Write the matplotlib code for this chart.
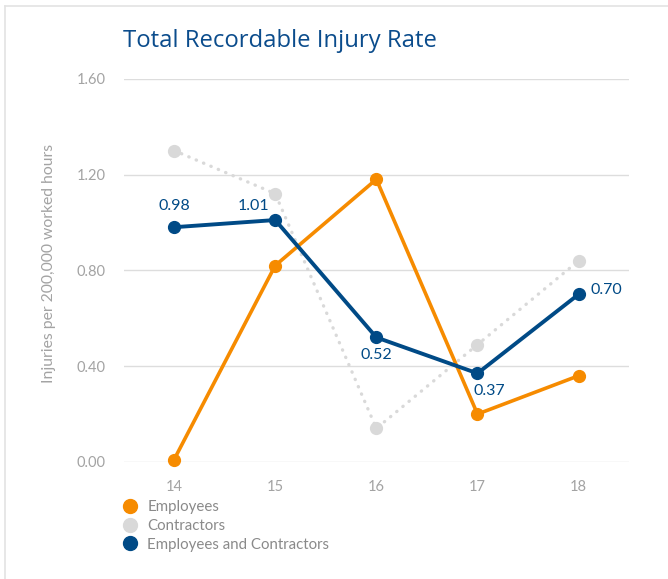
import matplotlib
matplotlib.use("Agg")
import matplotlib.pyplot as plt
from matplotlib.lines import Line2D

years = [14, 15, 16, 17, 18]
year_labels = ["14", "15", "16", "17", "18"]
employees = [0.01, 0.82, 1.18, 0.20, 0.36]
contractors = [1.30, 1.12, 0.14, 0.49, 0.84]
combined = [0.98, 1.01, 0.52, 0.37, 0.70]
combined_labels = ["0.98", "1.01", "0.52", "0.37", "0.70"]
y_ticks = [0.0, 0.4, 0.8, 1.2, 1.6]
y_tick_labels = ["0.00", "0.40", "0.80", "1.20", "1.60"]
series_names = ["Employees", "Contractors", "Employees and Contractors"]

ORANGE = "#F68B00"
GRAY = "#D9D9D9"
BLUE = "#004A86"
TEXT_GRAY = "#A3A3A3"
TITLE_BLUE = "#0B4C8C"

plt.rcParams['font.family'] = ['Lato', 'DejaVu Sans']

fig = plt.figure(figsize=(6.68, 5.79), dpi=100)
ax = fig.add_axes([0.1849, 0.2021, 0.757, 0.662])

# frame lines of the panel
fig.add_artist(Line2D([5/668, 5/668], [0, 1 - 6/579], transform=fig.transFigure, color="#E3E3E3", lw=1.2))
fig.add_artist(Line2D([5/668, 1], [1 - 6/579, 1 - 6/579], transform=fig.transFigure, color="#E3E3E3", lw=1.2))

ax.set_xlim(13.5, 18.5)
ax.set_ylim(0, 1.6)
ax.set_yticks(y_ticks)
ax.set_yticklabels(y_tick_labels)
ax.set_xticks(years)
ax.set_xticklabels(year_labels)
ax.grid(axis='y', color="#DDDDDD", lw=1.0)
ax.set_axisbelow(True)
for s in ax.spines.values():
    s.set_visible(False)
ax.tick_params(length=0, labelsize=10.5, labelcolor=TEXT_GRAY, pad=13)
ax.tick_params(axis='x', pad=13)

ax.plot(years, contractors, color=GRAY, lw=2.4, linestyle=(0, (0.1, 2.3)),
        dash_capstyle='round', marker='o', ms=8.5, clip_on=False, zorder=2)
ax.plot(years, employees, color=ORANGE, lw=2.6, marker='o', ms=8.5,
        clip_on=False, zorder=3)
ax.plot(years, combined, color=BLUE, lw=2.8, marker='o', ms=8.5,
        clip_on=False, zorder=4)

offsets = [(0, 21, 'center'), (-22, 14, 'center'), (0, -18, 'center'),
           (12, -18, 'center'), (12, 4, 'left')]
for x, y, t, (dx, dy, ha) in zip(years, combined, combined_labels, offsets):
    ax.annotate(t, (x, y), xytext=(dx, dy), textcoords='offset pixels',
                ha=ha, va='center', color=BLUE, fontsize=11.5)

ax.set_ylabel("Injuries per 200,000 worked hours", color=TEXT_GRAY,
              fontsize=11.3)
ax.yaxis.set_label_coords(-0.1335, 0.517)

fig.text(123/668, 1 - 41/579, "Total Recordable Injury Rate", color=TITLE_BLUE,
         fontsize=17.2, va='center', ha='left', family=['Open Sans', 'DejaVu Sans'])

handles = [Line2D([], [], color=c, marker='o', ls='none', ms=10)
           for c in (ORANGE, GRAY, BLUE)]
leg = fig.legend(handles, series_names, loc='upper left',
                 bbox_to_anchor=(124/668, 1 - 500/579), frameon=False,
                 fontsize=10.8, labelcolor="#8A8A8A", handlelength=0.8,
                 handletextpad=0.75, labelspacing=0.32, borderpad=0,
                 borderaxespad=0)

fig.savefig("out.png", dpi=100)
